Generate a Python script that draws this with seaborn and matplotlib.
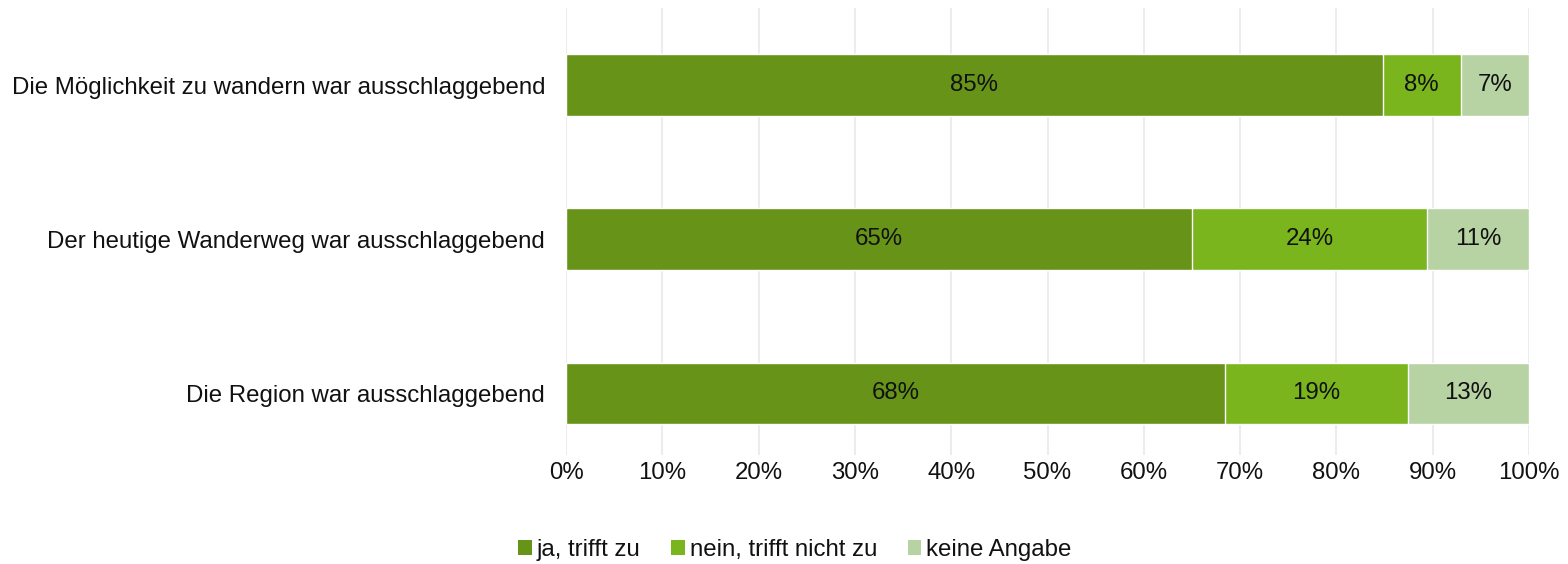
import numpy as np
import pandas as pd
import matplotlib
matplotlib.use("Agg")
import matplotlib.pyplot as plt
import seaborn as sns
from matplotlib.patches import Patch

categories = [
    "Die Möglichkeit zu wandern war ausschlaggebend",
    "Der heutige Wanderweg war ausschlaggebend",
    "Die Region war ausschlaggebend",
]
ja = [84.8, 65.0, 68.4]
nein = [8.1, 24.4, 19.0]
keine = [7.1, 10.6, 12.6]
series_names = ["ja, trifft zu", "nein, trifft nicht zu", "keine Angabe"]
colors = ["#679418", "#7ab51d", "#b8d3a3"]
xticks = [0, 10, 20, 30, 40, 50, 60, 70, 80, 90, 100]

sns.set_theme(style="white")
plt.rcParams["font.family"] = ["Liberation Sans", "DejaVu Sans"]
plt.rcParams["text.color"] = "#111111"
plt.rcParams["xtick.color"] = "#111111"
plt.rcParams["ytick.color"] = "#111111"

FS = 17.3

df = pd.DataFrame({"cat": categories, "ja": ja, "nein": nein, "keine": keine})
df["c1"] = df["ja"]
df["c2"] = df["ja"] + df["nein"]
df["c3"] = df["c2"] + df["keine"]

fig = plt.figure(figsize=(15.68, 5.64), dpi=100)
ax = fig.add_axes([566 / 1568, 1 - 455 / 564, (1529 - 566) / 1568, (455 - 8) / 564])

for col, color in zip(["c3", "c2", "c1"], colors[::-1]):
    sns.barplot(data=df, y="cat", x=col, color=color, width=0.4, orient="h",
                edgecolor="white", linewidth=1.0, ax=ax, saturation=1)

# value labels
for i in range(len(categories)):
    starts = [0, df["c1"][i], df["c2"][i]]
    vals = [ja[i], nein[i], keine[i]]
    for s, v in zip(starts, vals):
        ax.text(s + v / 2, i, f"{v:.0f}%", ha="center", va="center",
                fontsize=FS, color="#111111")

ax.set_xlim(0, 100)
ax.set_ylim(2.4, -0.5)
ax.set_xticks(xticks)
ax.set_xticklabels([f"{t}%" for t in xticks], fontsize=FS)
ax.tick_params(axis="x", length=0, pad=5)
ax.tick_params(axis="y", length=0, pad=15, labelsize=FS)
ax.set_xlabel("")
ax.set_ylabel("")
ax.xaxis.grid(True, color="#ebebf0", linewidth=1.5)
ax.set_axisbelow(True)
for sp in ax.spines.values():
    sp.set_visible(False)

handles = [Patch(facecolor=c, edgecolor="none") for c in colors]
fig.legend(handles, series_names, loc="center", bbox_to_anchor=(795 / 1568, 1 - 550 / 564),
           ncol=3, frameon=False, fontsize=FS, handlelength=0.55, handleheight=0.55,
           handletextpad=0.2, columnspacing=1.3)

fig.savefig("out.png", dpi=100)
